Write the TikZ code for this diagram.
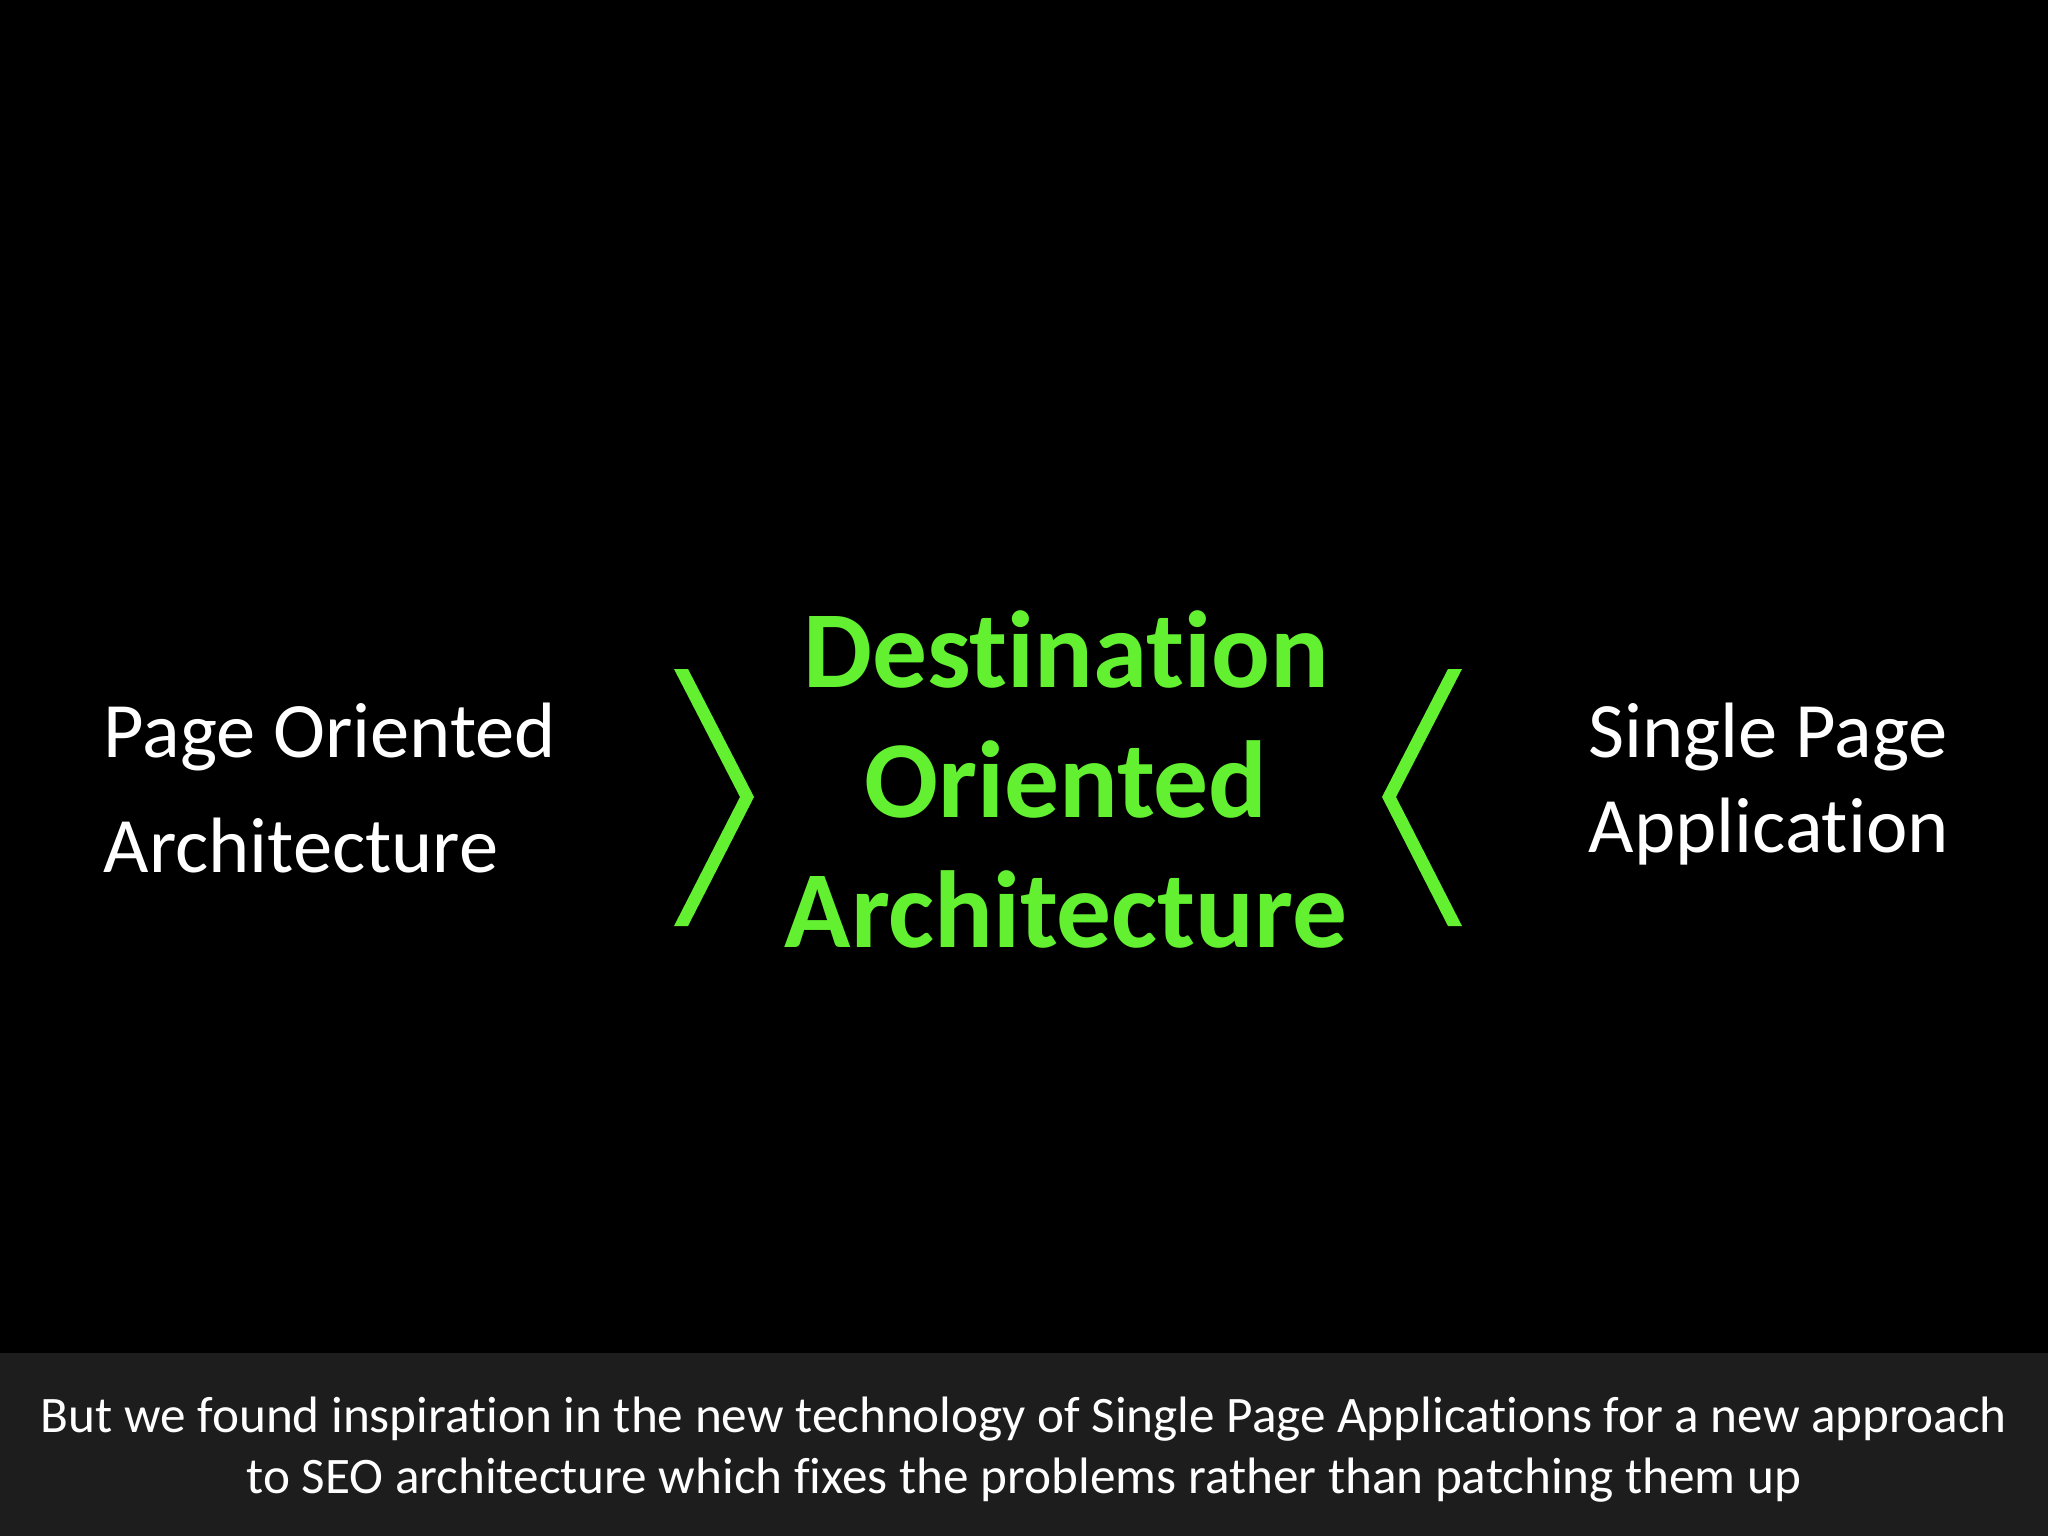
\documentclass[tikz,border=0pt]{standalone}
\usepackage{fontspec}
\setmainfont{Carlito}[Ligatures={NoCommon}]
\definecolor{limegreen}{RGB}{98,240,48}
\definecolor{barbg}{RGB}{29,29,29}
\tikzset{
  sidetext/.style={inner sep=0pt, text=white, font=\fontsize{27.6}{34}\selectfont},
  maintext/.style={inner sep=0pt, text=limegreen, font=\fontsize{38.5}{46}\selectfont\bfseries},
  bartext/.style={inner sep=0pt, text=white, font=\fontsize{18}{22}\selectfont},
  chevron/.style={fill=limegreen, draw=none}
}
\begin{document}
\begin{tikzpicture}[x=0.3515625pt, y=-0.3515625pt]
\fill[black] (0,0) rectangle (2048,1536);
\useasboundingbox (0,0) rectangle (2048,1536);
\fill[barbg] (0,1353) rectangle (2048,1536);
% chevrons
\fill[chevron] (674,669) -- (688,669) -- (754,797) -- (688,926) -- (674,926) -- (740,797) -- cycle;
\fill[chevron] (1462,669) -- (1448,669) -- (1382,797) -- (1448,926) -- (1462,926) -- (1396,797) -- cycle;
% left text
\node[sidetext, anchor=base west] (poa1) at (103,757) {Page Oriented};
\node[sidetext, anchor=base west] (poa2) at (103,872) {Architecture};
% right text
\node[sidetext, anchor=base west] (spa1) at (1588,757) {Single Page};
\node[sidetext, anchor=base west] (spa2) at (1588,852) {Application};
% center text
\node[maintext, anchor=base] (doa1) at (1066,688) {Destination};
\node[maintext, anchor=base] (doa2) at (1066,817) {Oriented};
\node[maintext, anchor=base] (doa3) at (1066,947) {Architecture};
% bottom text
\node[bartext, anchor=base] (cap1) at (1024,1432) {But we found inspiration in the new technology of Single Page Applications for a new approach};
\node[bartext, anchor=base] (cap2) at (1024,1493) {to SEO architecture which fixes the problems rather than patching them up};
\end{tikzpicture}
\end{document}
